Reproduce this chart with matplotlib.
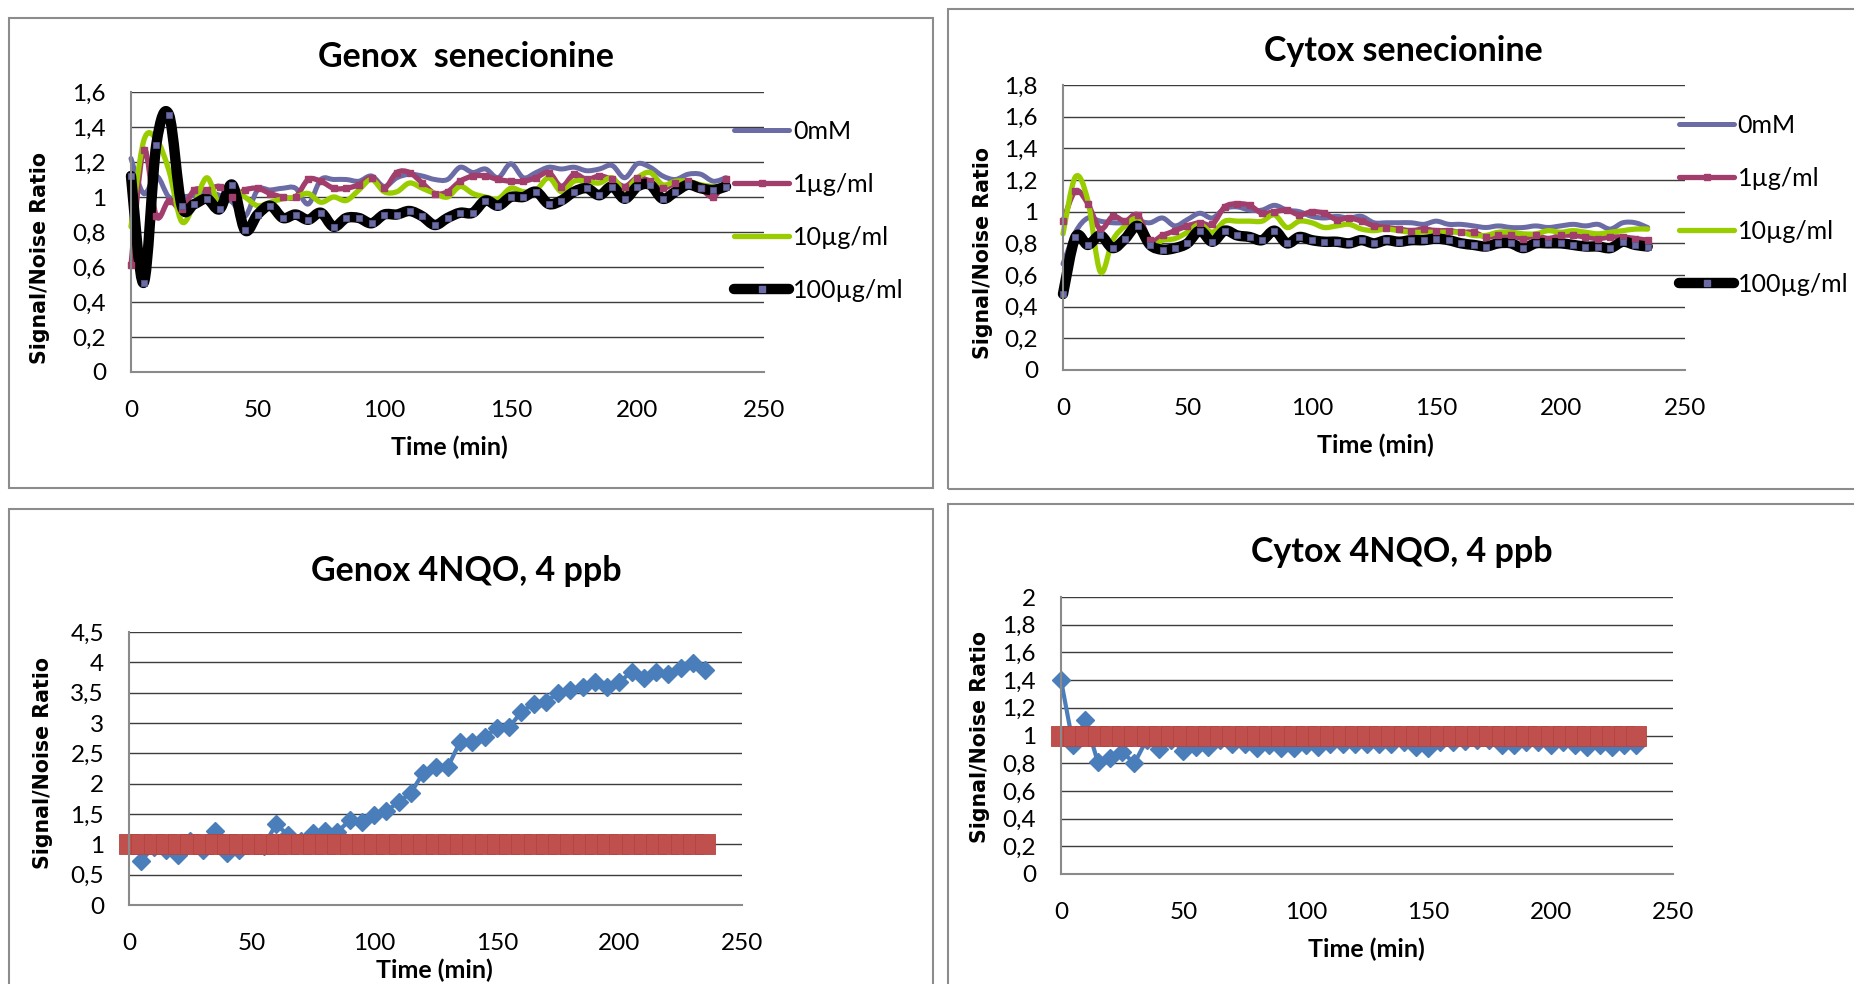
import numpy as np
import matplotlib
matplotlib.use("Agg")
import matplotlib.pyplot as plt
from matplotlib.path import Path
from matplotlib.patches import PathPatch, Rectangle
from matplotlib.lines import Line2D
from matplotlib.ticker import FuncFormatter

plt.rcParams['font.family'] = ['Lato', 'DejaVu Sans']

# time points (min)
t = [0, 5, 10, 15, 20, 25, 30, 35, 40, 45, 50, 55, 60, 65, 70, 75, 80, 85, 90, 95,
     100, 105, 110, 115, 120, 125, 130, 135, 140, 145, 150, 155, 160, 165, 170, 175,
     180, 185, 190, 195, 200, 205, 210, 215, 220, 225, 230, 235]
t_from5 = t[1:]

sen_labels = ["0mM", "1µg/ml", "10µg/ml", "100µg/ml"]

# Genox senecionine
genox_0 = [1.22, 1.02, 1.12, 1.00, 1.00, 1.01, 1.02, 1.01, 0.97, 0.89, 1.04, 1.04, 1.05, 1.05, 0.96, 1.10,
           1.10, 1.10, 1.09, 1.12, 1.06, 1.11, 1.13, 1.12, 1.10, 1.10, 1.17, 1.14, 1.16, 1.11, 1.19, 1.11,
           1.14, 1.17, 1.16, 1.17, 1.15, 1.16, 1.18, 1.11, 1.19, 1.17, 1.12, 1.10, 1.13, 1.13, 1.09, 1.11]
genox_1 = [0.61, 1.27, 0.89, 0.98, 0.93, 1.04, 1.04, 1.06, 1.00, 1.04, 1.05, 1.02, 1.00, 1.00, 1.10, 1.09,
           1.05, 1.05, 1.07, 1.11, 1.05, 1.14, 1.14, 1.08, 1.02, 1.03, 1.09, 1.12, 1.12, 1.10, 1.09, 1.09,
           1.11, 1.14, 1.06, 1.13, 1.10, 1.12, 1.10, 1.06, 1.11, 1.09, 1.05, 1.08, 1.09, 1.05, 1.00, 1.10]
genox_10 = [0.83, 1.32, 1.33, 1.15, 0.86, 0.96, 1.11, 0.96, 1.04, 1.00, 0.95, 0.97, 0.99, 1.00, 1.02, 0.97,
            1.00, 0.98, 1.04, 1.10, 1.03, 1.03, 1.08, 1.05, 1.02, 1.00, 1.06, 1.02, 1.00, 0.99, 1.05, 1.03,
            1.04, 1.11, 1.03, 1.09, 1.09, 1.08, 1.11, 1.04, 1.11, 1.14, 1.07, 1.09, 1.09, 1.07, 1.06, 1.06]
genox_100 = [1.12, 0.51, 1.30, 1.47, 0.95, 0.96, 0.99, 0.93, 1.07, 0.81, 0.90, 0.95, 0.88, 0.90, 0.87, 0.91,
             0.83, 0.88, 0.88, 0.85, 0.90, 0.90, 0.92, 0.89, 0.84, 0.88, 0.91, 0.91, 0.98, 0.95, 1.00, 1.00,
             1.03, 0.96, 0.98, 1.03, 1.05, 1.01, 1.06, 0.99, 1.06, 1.07, 0.99, 1.03, 1.07, 1.05, 1.04, 1.06]

# Cytox senecionine
cytox_0 = [0.67, 0.87, 0.96, 0.94, 0.93, 0.93, 0.94, 0.93, 0.96, 0.91, 0.95, 0.99, 0.96, 1.02, 1.03, 1.01,
           1.01, 1.04, 1.01, 1.00, 0.97, 0.96, 0.97, 0.96, 0.97, 0.93, 0.93, 0.93, 0.93, 0.92, 0.94, 0.92,
           0.92, 0.91, 0.90, 0.91, 0.90, 0.90, 0.91, 0.90, 0.91, 0.92, 0.91, 0.92, 0.89, 0.93, 0.93, 0.90]
cytox_1 = [0.94, 1.13, 1.05, 0.89, 0.97, 0.94, 0.98, 0.82, 0.85, 0.88, 0.91, 0.93, 0.92, 1.03, 1.05, 1.04,
           0.99, 1.00, 1.01, 0.98, 1.00, 0.99, 0.95, 0.96, 0.94, 0.91, 0.90, 0.89, 0.88, 0.89, 0.88, 0.88,
           0.87, 0.87, 0.84, 0.85, 0.85, 0.83, 0.85, 0.83, 0.85, 0.85, 0.84, 0.83, 0.84, 0.84, 0.83, 0.82]
cytox_10 = [0.86, 1.22, 1.07, 0.62, 0.82, 0.91, 0.95, 0.78, 0.82, 0.83, 0.87, 0.92, 0.87, 0.94, 0.94, 0.94,
            0.94, 0.98, 0.90, 0.94, 0.93, 0.90, 0.91, 0.92, 0.89, 0.88, 0.89, 0.88, 0.87, 0.87, 0.87, 0.87,
            0.87, 0.85, 0.85, 0.87, 0.87, 0.86, 0.86, 0.88, 0.87, 0.88, 0.87, 0.86, 0.87, 0.88, 0.89, 0.89]
cytox_100 = [0.48, 0.84, 0.79, 0.85, 0.77, 0.83, 0.91, 0.79, 0.76, 0.77, 0.80, 0.88, 0.81, 0.88, 0.85, 0.84,
             0.82, 0.88, 0.80, 0.84, 0.82, 0.81, 0.81, 0.80, 0.82, 0.80, 0.82, 0.81, 0.82, 0.82, 0.83, 0.82,
             0.80, 0.79, 0.78, 0.80, 0.80, 0.77, 0.80, 0.80, 0.80, 0.79, 0.78, 0.78, 0.77, 0.81, 0.79, 0.78]

# 4NQO, 4 ppb
genox_nqo = [0.73, 0.96, 0.90, 0.82, 1.05, 0.90, 1.22, 0.85, 0.90, 1.02, 0.98, 1.33, 1.15, 1.06, 1.19, 1.22,
             1.20, 1.40, 1.37, 1.49, 1.55, 1.70, 1.85, 2.18, 2.27, 2.27, 2.69, 2.69, 2.77, 2.92, 2.93, 3.18,
             3.32, 3.35, 3.49, 3.55, 3.59, 3.68, 3.59, 3.68, 3.84, 3.75, 3.84, 3.81, 3.90, 3.99, 3.88]
cytox_nqo = [1.40, 0.93, 1.11, 0.81, 0.84, 0.88, 0.80, 0.97, 0.90, 0.97, 0.89, 0.92, 0.92, 0.97, 0.94, 0.94,
             0.91, 0.93, 0.91, 0.91, 0.93, 0.92, 0.94, 0.94, 0.94, 0.94, 0.94, 0.94, 0.95, 0.92, 0.91, 0.95,
             0.95, 0.96, 0.97, 0.97, 0.93, 0.93, 0.95, 0.95, 0.93, 0.95, 0.93, 0.92, 0.93, 0.92, 0.93, 0.93]
control = [1, 1, 1, 1, 1, 1, 1, 1, 1, 1, 1, 1, 1, 1, 1, 1, 1, 1, 1, 1, 1, 1, 1, 1,
           1, 1, 1, 1, 1, 1, 1, 1, 1, 1, 1, 1, 1, 1, 1, 1, 1, 1, 1, 1, 1, 1, 1, 1]

c_slate = "#6B6BA6"
c_maroon = "#A23E6B"
c_lime = "#9ACD00"
c_blue = "#4A7EBB"
c_red = "#C0504D"

W, H = 1854, 984


def box(left, right, top, bottom):
    return [left / W, 1 - bottom / H, (right - left) / W, (bottom - top) / H]


def smooth_path(x, y):
    # excel style smoothed line (bezier through the points)
    p = np.column_stack([x, y]).astype(float)
    n = len(p)
    verts = [p[0]]
    codes = [Path.MOVETO]
    for i in range(n - 1):
        p0 = p[max(i - 1, 0)]
        p3 = p[min(i + 2, n - 1)]
        verts += [p[i] + (p[i + 1] - p0) / 6, p[i + 1] - (p3 - p[i]) / 6, p[i + 1]]
        codes += [Path.CURVE4] * 3
    return Path(verts, codes)


comma = FuncFormatter(lambda v, pos: ("%g" % round(v, 2)).replace(".", ","))


def style(ax, ymax, ystep):
    ax.set_xlim(0, 250)
    ax.set_ylim(0, ymax)
    ax.set_xticks(range(0, 251, 50))
    ax.set_yticks(np.arange(0, ymax + ystep / 2, ystep))
    ax.yaxis.set_major_formatter(comma)
    ax.grid(axis="y", color="#3c3c3c", lw=1.0)
    ax.set_axisbelow(True)
    for s in ["top", "right"]:
        ax.spines[s].set_visible(False)
    for s in ["left", "bottom"]:
        ax.spines[s].set_color("#8a8a8a")
        ax.spines[s].set_linewidth(1.5)
    ax.tick_params(axis="both", length=0, labelsize=17.5)
    ax.tick_params(axis="y", pad=18)
    ax.tick_params(axis="x", pad=20)


fig = plt.figure(figsize=(18.54, 9.84), dpi=100)

# chart area frames
for (x0, y0, x1, y1) in [(9, 18, 933, 488), (948, 9, 1860, 489), (9, 509, 933, 995), (948, 504, 1860, 995)]:
    fig.add_artist(Rectangle((x0 / W, 1 - y1 / H), (x1 - x0) / W, (y1 - y0) / H, transform=fig.transFigure,
                             fill=False, edgecolor="#8c8c8c", lw=1.5))

ax1 = fig.add_axes(box(131, 764, 92, 372))
ax2 = fig.add_axes(box(1063, 1685, 85, 370))
ax3 = fig.add_axes(box(129, 742, 632, 905))
ax4 = fig.add_axes(box(1061, 1673, 597, 874))

style(ax1, 1.6, 0.2)
style(ax2, 1.8, 0.2)
style(ax3, 4.5, 0.5)
style(ax4, 2.0, 0.2)

# senecionine panels
for ax, series in [(ax1, [genox_0, genox_1, genox_10, genox_100]),
                   (ax2, [cytox_0, cytox_1, cytox_10, cytox_100])]:
    ax.add_patch(PathPatch(smooth_path(t, series[0]), fill=False, edgecolor=c_slate, lw=3.6,
                           joinstyle="round", capstyle="round", clip_on=False))
    ax.add_patch(PathPatch(smooth_path(t, series[1]), fill=False, edgecolor=c_maroon, lw=3.8,
                           joinstyle="round", capstyle="round", clip_on=False))
    ax.plot(t, series[1], ls="none", marker="s", ms=4, color=c_maroon, clip_on=False)
    ax.add_patch(PathPatch(smooth_path(t, series[2]), fill=False, edgecolor=c_lime, lw=3.8,
                           joinstyle="round", capstyle="round", clip_on=False))
    ax.add_patch(PathPatch(smooth_path(t, series[3]), fill=False, edgecolor="black", lw=7.5,
                           joinstyle="round", capstyle="round", clip_on=False))
    ax.plot(t, series[3], ls="none", marker="s", ms=4.5, mfc=c_slate, mec="#55558a", mew=0.6, clip_on=False)

    handles = [Line2D([], [], color=c_slate, lw=3.6, solid_capstyle="round"),
               Line2D([], [], color=c_maroon, lw=3.8, marker="s", ms=5, solid_capstyle="round"),
               Line2D([], [], color=c_lime, lw=3.8, solid_capstyle="round"),
               Line2D([], [], color="black", lw=7.5, marker="s", ms=5, mfc=c_slate, mec=c_slate,
                      solid_capstyle="round")]
    if ax is ax1:
        anchor = (734 / W, 1 - 120 / H)
    else:
        anchor = (1679 / W, 1 - 114 / H)
    ax.legend(handles, sen_labels, loc="upper left", bbox_to_anchor=anchor, bbox_transform=fig.transFigure,
              frameon=False, fontsize=18, handlelength=2.2, handletextpad=0.15, labelspacing=1.2,
              borderpad=0, borderaxespad=0)

# 4NQO panels
ax3.plot(t_from5, genox_nqo, color=c_blue, lw=3, marker="D", ms=9, clip_on=False)
ax3.plot(t, control, color=c_red, lw=3, marker="s", ms=14, mec="#b5443f", mew=0.6, clip_on=False)
ax4.plot(t, cytox_nqo, color=c_blue, lw=3, marker="D", ms=9, clip_on=False)
ax4.plot(t, control, color=c_red, lw=3, marker="s", ms=14, mec="#b5443f", mew=0.6, clip_on=False)

# titles and axis labels
titles = [("Genox  senecionine", 466, 57), ("Cytox senecionine", 1403, 51),
          ("Genox 4NQO, 4 ppb", 466, 571), ("Cytox 4NQO, 4 ppb", 1402, 552)]
for text, x, y in titles:
    fig.text(x / W, 1 - y / H, text, ha="center", va="center", fontsize=24.5, fontweight="bold")

for x, y in [(449, 447), (1375, 445), (434, 970), (1366, 949)]:
    fig.text(x / W, 1 - y / H, "Time (min)", ha="center", va="center", fontsize=18, fontweight="bold")

for x, y in [(40, 258), (983, 253), (43, 763), (980, 737)]:
    fig.text(x / W, 1 - y / H, "Signal/Noise Ratio", ha="center", va="center", rotation=90,
             fontsize=14.8, fontweight="bold", family="DejaVu Sans")

fig.savefig("out.png", dpi=100)
